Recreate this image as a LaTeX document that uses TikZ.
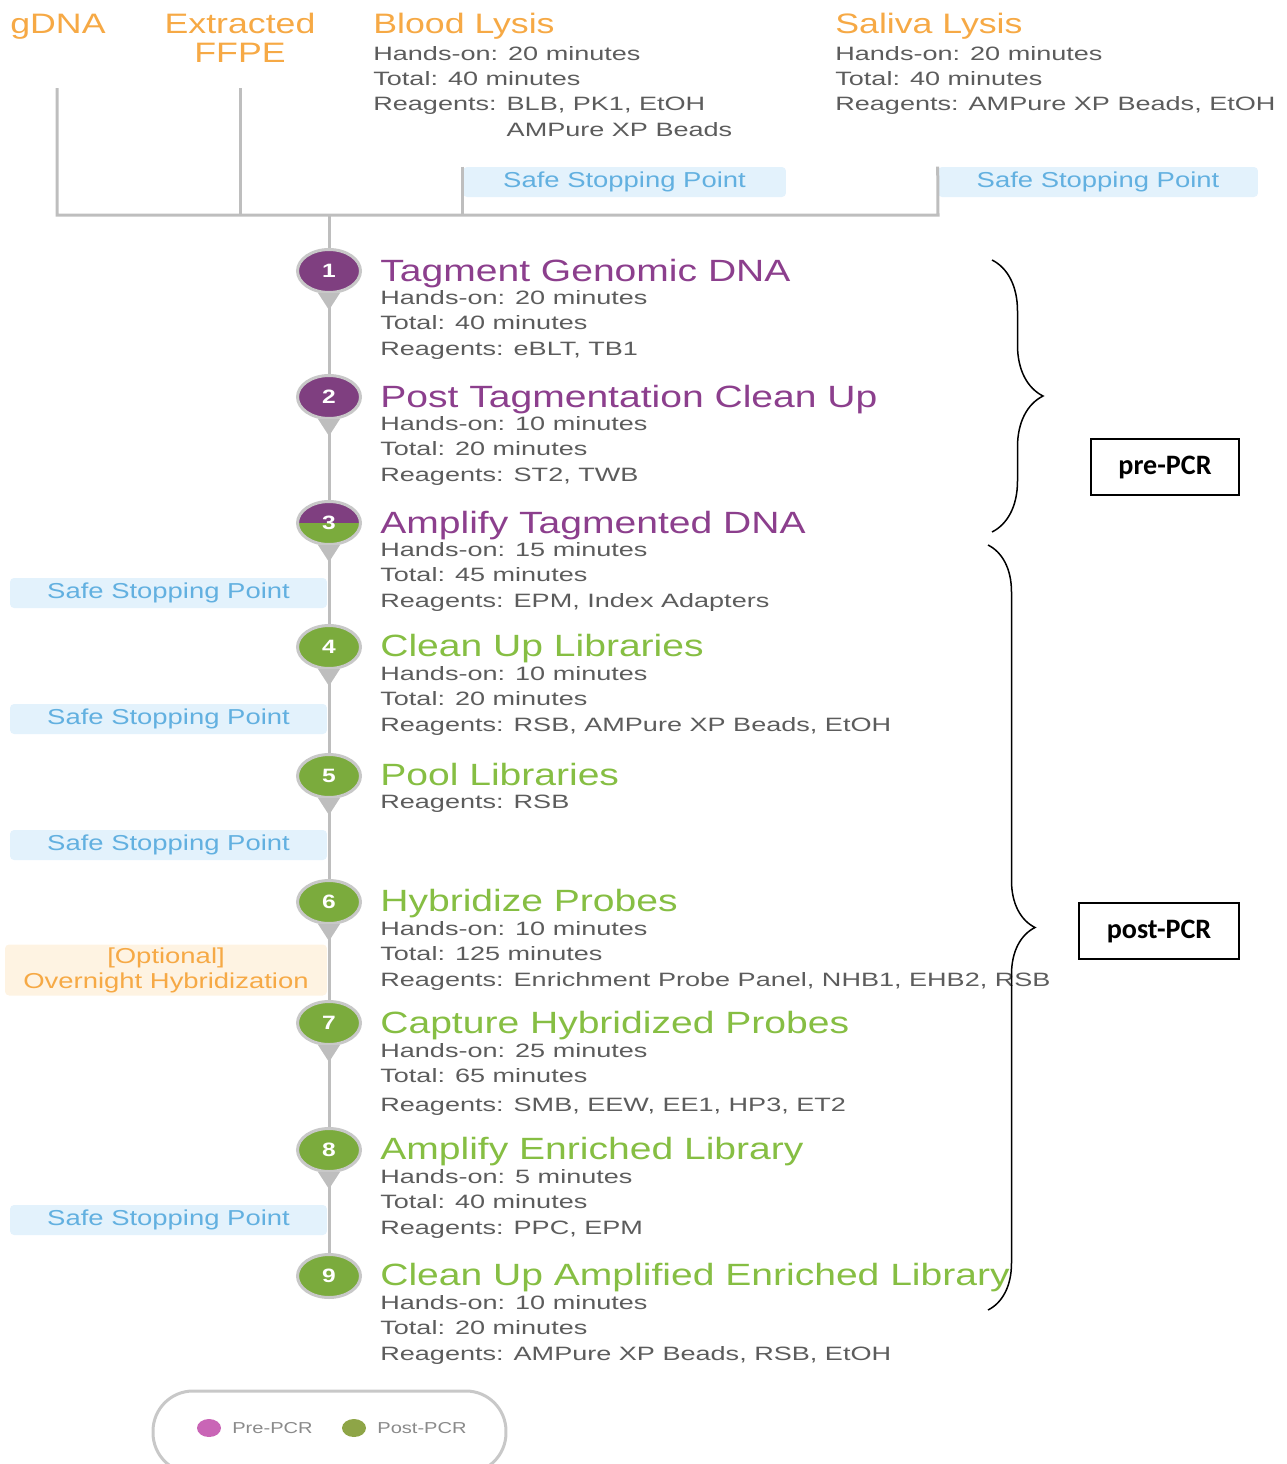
\documentclass[tikz,border=0pt]{standalone}
\usepackage{fontspec}
\setmainfont[FakeStretch=1.27]{Liberation Sans}
\newfontfamily\infofont[FakeStretch=1.4]{Liberation Sans}
\newfontfamily\calib{Carlito}
\usetikzlibrary{shapes.geometric,decorations.pathreplacing,calc}

\definecolor{prepurple}{HTML}{7F3F80}
\definecolor{pretitle}{HTML}{8C3F8D}
\definecolor{postgreen}{HTML}{7BAB3D}
\definecolor{posttitle}{HTML}{86BE43}
\definecolor{hdrorange}{HTML}{F6A945}
\definecolor{infogray}{HTML}{5C5C5C}
\definecolor{linegray}{HTML}{BEBEBE}
\definecolor{sspfill}{HTML}{E3F2FC}
\definecolor{ssptext}{HTML}{62B0E0}
\definecolor{optfill}{HTML}{FEF3E2}
\definecolor{legpink}{HTML}{C965B6}
\definecolor{leggreen}{HTML}{8EA547}
\definecolor{leggray}{HTML}{8A8A8A}

\begin{document}
\begin{tikzpicture}[x=0.02cm,y=-0.02cm,
  busline/.style={linegray,line width=0.06cm},
  stepdot/.style={ellipse,minimum width=1.26cm,minimum height=0.86cm,inner sep=0pt,
    draw=linegray!85,line width=0.06cm,text=white,font=\fontsize{11}{12}\selectfont\bfseries},
  predot/.style={stepdot,fill=prepurple},
  postdot/.style={stepdot,fill=postgreen},
  prehead/.style={anchor=base west,inner sep=0pt,text=pretitle,font=\fontsize{17.5}{20}\selectfont},
  posthead/.style={prehead,text=posttitle},
  info/.style={anchor=north west,inner sep=0pt,align=left,text=infogray,font=\infofont\fontsize{11}{14.5}\selectfont},
  hdr/.style={inner sep=0pt,text=hdrorange,font=\fontsize{16}{16.5}\selectfont},
  ssp/.style={fill=sspfill,text=ssptext,rounded corners=0.08cm,minimum height=0.6cm,
    inner sep=0pt,font=\fontsize{12.3}{14}\selectfont},
  phasebox/.style={draw,line width=0.04cm,minimum height=1.12cm,font=\calib\bfseries\fontsize{16}{18}\selectfont},
  brc/.style={decorate,line width=0.03cm},
  legdot/.style={ellipse,minimum width=0.48cm,minimum height=0.36cm,inner sep=0pt},
  legtext/.style={anchor=west,inner sep=0pt,text=leggray,font=\fontsize{9}{10}\selectfont}]
\useasboundingbox (0,0) rectangle (1286,1464);
\clip (0,0) rectangle (1286,1464);

% sample inputs
\node[hdr,anchor=base west] (gdna) at (10,33) {gDNA};
\node[hdr,anchor=north,align=center] (ffpe) at (240,13) {Extracted\\FFPE};
\node[hdr,anchor=base west] (blood) at (373,33) {Blood Lysis};
\node[info,font=\infofont\fontsize{11}{14.4}\selectfont] (bloodinfo) at (373,46)
  {Hands-on: 20 minutes\\Total: 40 minutes\\Reagents: BLB, PK1, EtOH\\\phantom{Reagents: }AMPure XP Beads};
\node[hdr,anchor=base west] (saliva) at (835,33) {Saliva Lysis};
\node[info,font=\infofont\fontsize{11}{14.4}\selectfont] (salivainfo) at (835,46)
  {Hands-on: 20 minutes\\Total: 40 minutes\\Reagents: AMPure XP Beads, EtOH};
\node[ssp,minimum width=6.46cm] (sspB) at (624.5,182) {Safe Stopping Point};
\node[ssp,minimum width=6.4cm] (sspS) at (1098,182) {Safe Stopping Point};

\coordinate (g0) at (57,88);
\coordinate (f0) at (240,88);
\coordinate (busL) at (57,215);
\coordinate (busC) at (329,215);
\coordinate (busR) at (938,215);
\draw[busline] (g0) -- (busL) -- (busR) -- (sspS.north west);
\draw[busline] (f0) -- (f0 |- busL);
\draw[busline] (sspB.north west) -- (sspB.north west |- busL);

% workflow steps
\node[predot] (s1) at (329,271) {1};
\node[prehead] (t1) at (380,281) {Tagment Genomic DNA};
\node[info] (i1) at (380,290) {Hands-on: 20 minutes\\Total: 40 minutes\\Reagents: eBLT, TB1};

\node[predot] (s2) at (329,397) {2};
\node[prehead] (t2) at (380,407) {Post Tagmentation Clean Up};
\node[info] (i2) at (380,416) {Hands-on: 10 minutes\\Total: 20 minutes\\Reagents: ST2, TWB};

\node[predot,path picture={\fill[postgreen] (path picture bounding box.west) rectangle (path picture bounding box.south east);}] (s3) at (329,523) {3};
\node[prehead] (t3) at (380,533) {Amplify Tagmented DNA};
\node[info] (i3) at (380,542) {Hands-on: 15 minutes\\Total: 45 minutes\\Reagents: EPM, Index Adapters};

\node[postdot] (s4) at (329,647) {4};
\node[posthead] (t4) at (380,656) {Clean Up Libraries};
\node[info] (i4) at (380,666) {Hands-on: 10 minutes\\Total: 20 minutes\\Reagents: RSB, AMPure XP Beads, EtOH};

\node[postdot] (s5) at (329,776) {5};
\node[posthead] (t5) at (380,785) {Pool Libraries};
\node[info] (i5) at (380,795) {Reagents: RSB};

\node[postdot] (s6) at (329,902) {6};
\node[posthead] (t6) at (380,911) {Hybridize Probes};
\node[info] (i6) at (380,921) {Hands-on: 10 minutes\\Total: 125 minutes\\Reagents: Enrichment Probe Panel, NHB1, EHB2, RSB};

\node[postdot] (s7) at (329,1023) {7};
\node[posthead] (t7) at (380,1033) {Capture Hybridized Probes};
\node[info] (i7) at (380,1043) {Hands-on: 25 minutes\\Total: 65 minutes\\[2pt]Reagents: SMB, EEW, EE1, HP3, ET2};

\node[postdot] (s8) at (329,1150) {8};
\node[posthead] (t8) at (380,1159) {Amplify Enriched Library};
\node[info] (i8) at (380,1169) {Hands-on: 5 minutes\\Total: 40 minutes\\Reagents: PPC, EPM};

\node[postdot] (s9) at (329,1276) {9};
\node[posthead] (t9) at (380,1285) {Clean Up Amplified Enriched Library};
\node[info] (i9) at (380,1295) {Hands-on: 10 minutes\\Total: 20 minutes\\Reagents: AMPure XP Beads, RSB, EtOH};

% spine and pointers
\draw[busline] (busC) -- (s1);
\foreach \i [count=\j from 2] in {1,...,8}{
  \draw[busline] (s\i) -- (s\j);
  \fill[linegray] ($(s\i.south)+(-11,-1)$) -- ($(s\i.south)+(11,-1)$) -- ($(s\i.south)+(0,16)$) -- cycle;
}

% stopping points
\node[ssp,minimum width=6.34cm] (ssp3) at (168.5,593) {Safe Stopping Point};
\node[ssp,minimum width=6.34cm] (ssp4) at (168.5,719) {Safe Stopping Point};
\node[ssp,minimum width=6.34cm] (ssp5) at (168.5,845) {Safe Stopping Point};
\node[ssp,minimum width=6.34cm] (ssp8) at (168.5,1220) {Safe Stopping Point};
\node[fill=optfill,text=hdrorange,rounded corners=0.08cm,minimum width=6.44cm,minimum height=1.02cm,
  inner sep=0pt,align=center,font=\fontsize{12.3}{14.2}\selectfont] (opt) at (166,970)
  {[Optional]\\Overnight Hybridization};

% pre / post PCR
\coordinate (preTop) at (992,260);
\coordinate (preBot) at (992,532);
\coordinate (postTop) at (988,545);
\coordinate (postBot) at (988,1310);
\draw[brc,decoration={brace,amplitude=1.02cm}] (preTop) -- (preBot);
\draw[brc,decoration={brace,amplitude=0.94cm}] (postTop) -- (postBot);
\node[phasebox,minimum width=2.96cm] (pre) at (1165,467) {pre-PCR};
\node[phasebox,minimum width=3.2cm] (post) at (1159,931) {post-PCR};

% legend
\node[draw=linegray!85,line width=0.06cm,rounded corners=0.8cm,minimum width=7.06cm,minimum height=1.64cm] (leg) at (329.5,1432) {};
\node[legdot,fill=legpink] (kpre) at (209,1428) {};
\node[legtext] (lpre) at (232,1428) {Pre-PCR};
\node[legdot,fill=leggreen] (kpost) at (354,1428) {};
\node[legtext] (lpost) at (377,1428) {Post-PCR};
\end{tikzpicture}
\end{document}
